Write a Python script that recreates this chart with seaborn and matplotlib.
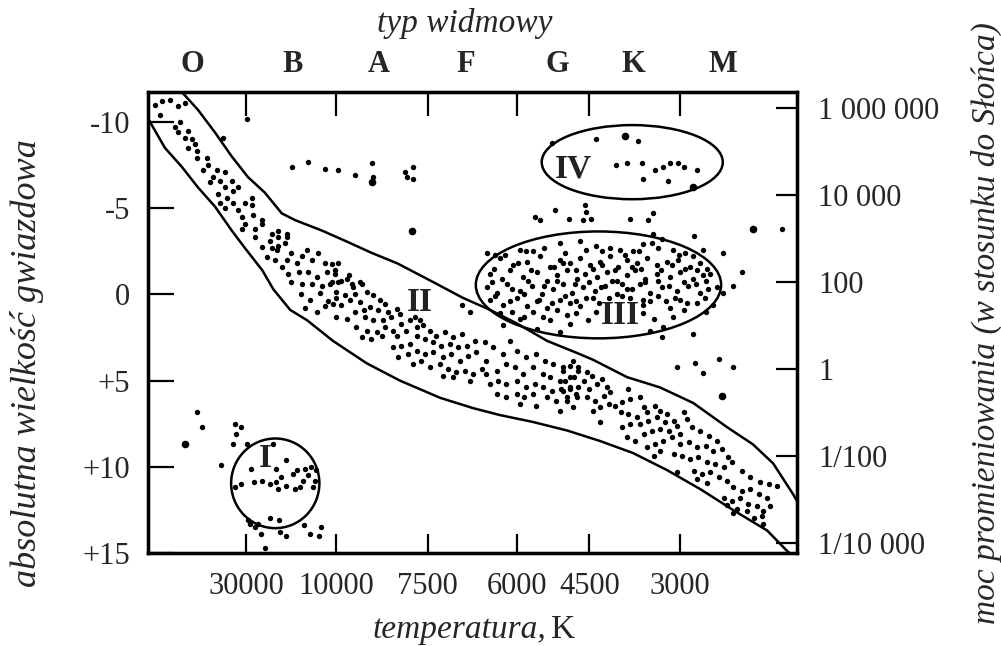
import pandas as pd
import matplotlib
matplotlib.use("Agg")
import matplotlib.pyplot as plt
from matplotlib.patches import Ellipse
import seaborn as sns

# x: position along spectral sequence (0-100), m: absolute magnitude
temp_ticks = [15.1, 29.0, 43.1, 56.9, 68.0, 82.0]
temp_labels = ["30000", "10000", "7500", "6000", "4500", "3000"]
spec_pos = [6.8, 22.2, 35.6, 48.9, 63.1, 74.7, 88.6]
spec_labels = ["O", "B", "A", "F", "G", "K", "M"]
mag_ticks = [-10, -5, 0, 5, 10, 15]
mag_labels = ["-10", "-5", "0", "+5", "+10", "+15"]
lum_ticks = [6, 4, 2, 0, -2, -4]
lum_labels = ["1 000 000", "10 000", "100", "1", "1/100", "1/10 000"]

# band of the main sequence
upper_edge = [(5.2, -11.74), (7.7, -10.7), (10.3, -9.4), (12.9, -8.0), (15.4, -6.8), (18.0, -5.9),
              (20.6, -4.7), (22.7, -4.3), (26.8, -3.7), (30.4, -3.1), (34.5, -2.4), (38.4, -1.8),
              (43.5, -0.8), (48.5, 0.2), (52.7, 0.9), (56.9, 1.7), (61.5, 2.7), (66.1, 3.4),
              (68.6, 3.8), (73.8, 4.8), (78.9, 5.4), (84.0, 6.3), (89.2, 7.7), (93.2, 8.7),
              (96.3, 9.8), (99.4, 11.6), (100.0, 12.0)]
lower_edge = [(0.0, -10.2), (2.6, -8.5), (5.2, -7.4), (7.7, -6.2), (10.3, -5.1), (12.9, -3.7),
              (14.9, -2.7), (17.6, -1.4), (19.3, -0.3), (21.9, 0.9), (24.5, 1.5), (28.5, 2.7),
              (33.7, 4.0), (38.8, 5.0), (45.0, 6.0), (50.1, 6.6), (54.2, 7.0), (59.3, 7.4),
              (64.6, 7.9), (69.6, 8.5), (74.7, 9.2), (80.0, 10.2), (85.1, 11.3), (90.1, 12.5),
              (95.4, 13.7), (98.5, 14.9), (99.2, 15.1)]

# ovals: centre x, centre m, width, height
dwarf_oval = (19.6, 10.96, 13.6, 5.2)
giant_oval = (69.4, -0.55, 37.8, 6.2)
super_oval = (74.6, -7.67, 27.9, 4.3)

ms_hot = [(1.1, -11.0), (2.2, -11.2), (3.4, -11.3), (4.6, -10.9), (5.7, -11.1), (1.8, -10.4),
          (4.9, -10.0), (4.2, -9.7), (4.6, -9.4), (6.2, -9.5), (5.7, -9.1), (6.8, -9.0), (7.2, -8.7),
          (6.2, -8.5), (7.6, -8.3), (7.6, -7.9), (9.1, -7.9), (9.2, -7.5), (8.5, -7.2), (10.6, -7.2),
          (11.9, -7.1), (10.0, -6.8), (11.1, -6.6), (12.9, -6.6), (9.6, -6.5), (11.9, -6.2),
          (13.1, -6.0), (10.8, -5.8), (12.2, -5.6), (13.9, -6.2), (11.1, -5.3), (13.1, -5.3),
          (11.9, -5.0), (16.0, -5.6), (14.9, -5.3), (13.9, -4.9), (16.0, -5.2), (14.5, -4.5),
          (16.2, -4.6), (17.6, -4.3), (14.9, -4.1), (14.5, -3.8), (16.5, -3.8), (17.6, -4.1),
          (19.1, -3.5), (20.0, -3.7), (21.4, -3.5), (16.5, -3.3), (18.8, -3.1), (20.0, -3.3),
          (21.4, -3.3), (19.1, -2.7), (20.0, -2.8), (21.1, -3.0), (17.5, -2.75), (19.8, -2.56),
          (18.3, -2.17), (19.6, -1.98)]
ms_b = [(20.6, -1.6), (21.4, -2.0), (22.1, -2.4), (22.9, -1.8), (23.7, -2.2), (24.5, -2.6),
        (25.2, -2.0), (26.2, -2.4), (27.3, -1.8), (21.6, -1.2), (23.2, -1.3), (24.7, -1.3),
        (26.0, -1.0), (27.5, -1.3), (28.8, -1.4), (22.1, -0.7), (23.7, -0.6), (25.2, -0.6),
        (26.8, -0.5), (28.3, -0.7), (29.8, -0.8), (31.4, -0.6), (32.7, -0.7), (30.9, -1.1),
        (29.3, -1.8), (23.5, 0.0), (25.0, 0.3), (26.5, -0.1), (27.8, 0.4), (24.2, 0.8),
        (26.0, 1.0), (27.2, 0.7), (29.0, 0.2)]
ms_mid = [(28.3, -1.78), (28.8, -1.20), (28.0, -0.62), (29.3, -0.71), (30.6, -0.91), (31.6, -0.42),
          (32.9, -0.62), (29.0, -0.13), (30.3, 0.06), (31.9, -0.04), (28.5, 0.55), (29.8, 0.64),
          (31.1, 0.35), (32.6, 0.45), (29.0, 1.32), (30.6, 1.42), (31.9, 1.03), (33.2, 0.93),
          (33.7, -0.13), (34.7, 0.06), (35.7, 0.35), (36.5, 0.55), (34.2, 0.74), (35.5, 0.93),
          (37.0, 1.03), (38.3, 0.84), (33.4, 1.32), (34.7, 1.51), (36.2, 1.51), (37.5, 1.32),
          (38.8, 1.13), (32.1, 1.90), (33.7, 2.10), (35.2, 2.19), (36.5, 1.90), (37.8, 2.10),
          (39.0, 1.71), (40.3, 1.51), (32.9, 2.48), (34.4, 2.58), (36.0, 2.39), (38.3, 2.39),
          (39.8, 2.10), (41.1, 1.32), (41.9, 1.51), (41.4, 1.90), (42.4, 1.80), (43.4, 2.10),
          (44.4, 2.39), (45.7, 2.19), (47.0, 2.48), (48.3, 2.29), (41.4, 2.39), (42.6, 2.58),
          (43.9, 2.77), (45.2, 2.97), (46.5, 2.87), (47.8, 3.06), (49.1, 2.97), (50.3, 2.68),
          (37.8, 3.06), (39.0, 2.97), (40.3, 2.87), (38.5, 3.65), (40.1, 3.45), (41.4, 3.26),
          (42.6, 3.45), (43.9, 3.36), (45.5, 3.65), (46.7, 3.45), (48.0, 3.84), (49.3, 3.55),
          (50.6, 3.36), (51.9, 2.77), (40.8, 4.03), (42.1, 3.84), (43.4, 4.23), (45.0, 4.03),
          (46.2, 4.32), (47.5, 4.52), (48.8, 4.42), (50.1, 4.61), (51.4, 4.32), (52.1, 3.84),
          (45.5, 4.71), (47.0, 4.81), (49.6, 5.00), (53.2, 3.06), (54.7, 3.45), (55.7, 2.68),
          (56.8, 3.26), (58.3, 3.65), (59.8, 3.45), (61.1, 3.84), (62.4, 4.03), (64.0, 4.23),
          (65.5, 3.84), (52.1, 4.61), (53.7, 4.42), (55.2, 4.03), (56.5, 4.23), (57.8, 4.61),
          (59.3, 4.23), (60.9, 4.61), (61.9, 4.81), (63.4, 5.00), (65.0, 4.81), (66.3, 4.42),
          (52.7, 5.20), (53.9, 5.00), (55.2, 5.20), (56.8, 5.00), (58.3, 5.39), (59.6, 5.20),
          (60.9, 5.39), (62.2, 5.58), (63.7, 5.49), (65.0, 5.39), (53.7, 5.78), (55.2, 5.97),
          (56.8, 5.78), (58.0, 5.97), (59.3, 5.78), (61.4, 5.97), (62.9, 6.17), (64.5, 5.97),
          (66.0, 5.78), (57.3, 6.36), (59.8, 6.46), (63.4, 6.75), (65.5, 6.55)]
ms_cool = [(64.0, 4.42), (65.0, 4.13), (66.3, 4.22), (67.6, 4.52), (64.3, 5.00), (65.6, 4.81),
           (67.1, 5.00), (68.4, 4.71), (69.9, 4.90), (64.0, 5.58), (65.0, 5.49), (66.3, 5.39),
           (67.9, 5.49), (69.2, 5.19), (70.7, 5.39), (64.5, 6.16), (66.1, 5.97), (67.6, 5.97),
           (68.9, 6.16), (70.2, 5.87), (71.2, 5.68), (69.7, 6.55), (71.0, 6.36), (68.6, 6.75),
           (69.7, 7.43), (72.0, 6.45), (73.0, 6.26), (74.0, 5.49), (74.3, 6.07), (75.8, 5.97),
           (76.4, 6.55), (72.8, 6.84), (74.0, 6.94), (75.3, 7.13), (76.9, 6.84), (78.1, 6.45),
           (78.9, 6.75), (79.9, 6.94), (73.0, 7.72), (74.3, 7.52), (75.8, 7.52), (77.1, 7.33),
           (78.4, 7.13), (79.7, 7.43), (81.0, 7.33), (73.8, 8.30), (75.1, 8.49), (76.4, 8.10),
           (77.6, 7.91), (78.9, 7.81), (80.2, 7.91), (81.5, 7.62), (76.9, 8.88), (78.1, 8.69),
           (79.4, 8.49), (80.7, 8.30), (82.0, 8.10), (77.9, 9.37), (78.9, 9.07), (82.5, 6.84),
           (83.0, 7.23), (83.8, 7.72), (85.1, 7.91), (86.4, 8.20), (87.6, 8.49), (82.0, 8.69),
           (83.3, 8.59), (84.6, 8.88), (85.9, 8.78), (87.1, 9.07), (88.4, 8.98), (89.4, 9.46),
           (81.0, 9.27), (82.3, 9.37), (83.5, 9.56), (84.8, 9.46), (86.1, 9.75), (87.4, 9.85),
           (88.7, 10.04), (90.0, 9.75), (84.1, 10.23), (85.3, 10.43), (86.6, 10.33), (87.9, 10.62),
           (89.2, 10.82), (81.5, 10.33), (84.6, 10.72), (86.1, 10.95), (91.5, 10.23), (92.8, 10.62),
           (94.3, 10.91), (95.6, 11.01), (96.9, 11.10), (90.2, 11.20), (91.5, 11.40), (92.8, 11.30),
           (94.1, 11.59), (95.4, 11.79), (88.7, 11.79), (90.0, 11.98), (91.2, 11.79), (92.5, 12.17),
           (93.8, 12.27), (94.8, 12.56), (95.9, 12.27), (89.2, 12.20), (90.7, 12.45), (92.3, 12.56),
           (93.3, 12.95), (94.6, 12.85), (94.8, 13.34), (90.2, 12.70)]
giants = [(52.2, -2.4), (53.5, -2.3), (57.3, -2.6), (59.3, -2.5), (63.5, -3.0), (66.6, -3.1),
          (70.0, -2.5), (71.2, -2.7), (72.7, -2.6), (74.7, -2.5), (76.3, -2.9), (77.7, -3.0),
          (79.2, -3.2), (80.9, -2.6), (82.7, -2.4), (85.5, -2.6),
          (54.2, -2.1), (56.2, -1.7), (58.4, -1.9), (60.4, -2.2), (61.9, -1.6), (63.5, -2.0),
          (65.0, -1.8), (66.6, -2.1), (68.1, -1.7), (69.6, -1.9), (71.2, -2.2), (72.4, -1.6),
          (73.8, -2.0), (75.3, -1.8), (76.9, -2.1), (78.4, -1.7), (80.0, -1.9), (81.7, -2.0),
          (83.5, -1.6), (85.1, -1.8), (86.1, -1.5),
          (52.7, -1.2), (54.5, -0.9), (55.8, -1.4), (57.8, -1.0), (59.9, -1.3), (61.5, -0.8),
          (63.0, -1.1), (64.6, -1.4), (66.1, -0.9), (67.3, -1.2), (69.2, -1.0), (70.7, -1.3),
          (72.3, -0.8), (73.8, -1.1), (75.0, -1.4), (76.6, -0.9), (78.4, -1.2), (80.4, -1.0),
          (82.0, -1.3), (84.0, -0.9), (85.5, -1.1), (86.6, -1.2),
          (52.2, -0.4), (53.8, -0.1), (55.3, -0.6), (57.3, -0.2), (59.2, -0.5), (60.7, 0.0),
          (62.4, -0.3), (63.9, -0.6), (65.3, -0.1), (67.0, -0.4), (68.9, -0.2), (70.4, -0.5),
          (72.3, 0.0), (73.8, -0.3), (75.8, -0.6), (77.3, -0.1), (79.2, -0.4), (81.5, -0.2),
          (83.2, -0.5), (85.1, -0.1), (86.3, -0.3), (87.7, -0.4),
          (52.7, 0.3), (54.7, 0.6), (56.9, 0.2), (58.4, 0.7), (59.9, 0.4), (61.5, 0.8),
          (63.5, 0.3), (65.0, 0.5), (66.6, 0.7), (68.6, 0.2), (76.2, 0.6), (77.3, 0.4),
          (80.4, 0.8), (82.0, 0.3), (84.6, 0.5), (87.1, 0.6),
          (54.2, 1.1), (57.3, 1.4), (59.3, 1.0), (60.9, 1.3), (63.0, 0.9), (64.6, 1.2),
          (67.8, 1.5), (76.3, 1.1), (80.9, 1.3),
          (54.7, 1.8), (59.9, 2.0), (63.5, 2.2), (65.0, 1.7), (77.3, 2.1), (79.4, 1.9), (84.0, 2.3),
          (55.0, -2.3), (58.3, -2.5), (61.0, -2.7), (64.3, -2.4), (67.5, -2.6), (69.0, -2.8),
          (73.5, -2.3), (75.6, -2.5), (78.5, -2.7), (81.8, -2.3), (84.0, -2.2),
          (53.3, -1.5), (57.0, -1.8), (59.0, -1.4), (62.6, -1.6), (64.0, -1.8), (66.0, -1.4),
          (68.5, -1.5), (70.0, -1.7), (72.0, -1.4), (74.5, -1.6), (76.0, -1.5), (79.0, -1.4),
          (80.8, -1.7), (82.8, -1.5), (84.6, -1.4),
          (53.0, -0.7), (56.0, -0.3), (58.5, -0.8), (61.0, -0.5), (63.0, -0.8), (65.8, -0.6),
          (68.0, -0.7), (69.8, -0.4), (71.5, -0.8), (73.0, -0.6), (74.5, -0.3), (76.5, -0.7),
          (78.6, -0.8), (80.2, -0.5), (82.5, -0.7), (84.4, -0.6), (86.0, -0.8),
          (53.5, 0.1), (55.8, 0.4), (57.9, 0.0), (60.3, 0.3), (62.3, 0.5), (64.2, 0.1),
          (66.0, 0.4), (67.5, 0.2), (69.5, 0.5), (71.0, 0.2), (73.0, 0.1), (74.2, 0.2),
          (76.2, 0.3), (78.5, 0.1), (79.8, 0.4), (81.2, 0.2), (83.0, 0.5), (85.8, 0.2),
          (56.0, 1.0), (58.0, 1.3), (62.0, 1.5), (66.0, 1.1), (69.0, 1.0), (78.0, 1.4),
          (82.5, 0.9), (86.0, 1.0),
          (93.2, -3.8), (91.5, -1.3), (90.1, -0.5), (88.6, -0.1), (88.6, -2.4), (79.2, 2.5)]
supergiants = [(22.2, -7.4), (24.7, -7.7), (27.3, -7.3), (29.3, -7.2), (31.9, -6.9), (34.7, -6.8),
               (34.5, -7.6), (39.9, -6.8), (40.8, -7.4), (40.8, -6.7), (39.6, -7.1),
               (62.2, -8.8), (69.0, -9.0), (75.5, -8.9), (72.1, -7.5), (73.8, -7.6), (76.1, -7.6),
               (78.1, -7.2), (79.4, -7.4), (80.4, -7.6), (81.7, -7.6), (82.6, -7.4), (84.6, -7.2),
               (76.3, -6.7), (80.1, -6.6),
               (59.6, -4.5), (60.4, -4.3), (62.7, -4.9), (64.9, -4.4), (67.3, -5.2), (67.5, -4.8),
               (67.0, -4.3), (68.3, -4.4), (74.3, -4.4), (77.0, -4.3), (77.8, -4.7), (77.8, -3.5),
               (84.1, -3.4), (97.7, -3.8)]
dwarfs = [(7.6, 6.8), (8.3, 7.7), (13.4, 7.5), (14.3, 7.7), (13.6, 8.1), (13.1, 8.7), (15.3, 8.7),
          (11.2, 9.9), (19.3, 8.7), (15.9, 10.1), (19.7, 10.1), (21.3, 9.6), (22.3, 10.4),
          (23.0, 10.2), (24.2, 10.1), (25.1, 10.0), (25.9, 10.2), (24.7, 10.5), (23.9, 10.8),
          (23.4, 11.2), (22.7, 11.3), (21.3, 11.1), (20.5, 10.6), (19.7, 10.9), (18.8, 11.0),
          (17.6, 10.8), (16.3, 10.9), (14.3, 11.0), (13.4, 11.2), (20.0, 11.3), (25.4, 11.2),
          (25.7, 10.8), (18.8, 13.0), (20.2, 13.1), (15.4, 13.1), (15.7, 13.3), (16.5, 13.5),
          (16.9, 13.3), (17.4, 13.9), (20.3, 13.8), (21.3, 14.0), (24.0, 13.4), (25.0, 13.9),
          (26.3, 14.0), (26.7, 13.5), (18.0, 14.7)]
others = [(15.3, -10.2), (11.6, -9.1), (48.4, 0.64), (49.6, 1.05), (81.5, 4.22), (84.3, 3.99),
          (85.5, 4.57), (87.9, 3.74), (90.1, 4.22)]
big_stars = [(5.7, 8.7), (73.5, -9.2), (40.7, -3.7), (34.5, -6.5), (84.0, -6.2), (88.4, 5.87),
             (93.2, -3.8)]

region_labels = [("I", 18.0, 9.5), ("II", 41.9, 0.45), ("III", 72.7, 1.2), ("IV", 65.5, -7.3)]

# ---- plot
sns.set_theme(style="ticks")
plt.rcParams["font.family"] = ["Liberation Serif", "DejaVu Serif"]

fig = plt.figure(figsize=(10.01, 6.46), dpi=100)
ax = fig.add_axes([0.1479, 0.1440, 0.6484, 0.7136])

stars = pd.DataFrame(ms_hot + ms_b + ms_mid + ms_cool + giants + supergiants + dwarfs + others,
                     columns=["x", "m"])
big = pd.DataFrame(big_stars, columns=["x", "m"])
sns.scatterplot(data=stars, x="x", y="m", s=15, color="black", linewidth=0, ax=ax)
sns.scatterplot(data=big, x="x", y="m", s=30, color="black", linewidth=0, ax=ax)

for edge in (upper_edge, lower_edge):
    e = pd.DataFrame(edge, columns=["x", "m"])
    sns.lineplot(data=e, x="x", y="m", sort=False, estimator=None, color="black", lw=1.8, ax=ax)

for cx, cy, w, h in (dwarf_oval, giant_oval, super_oval):
    ax.add_patch(Ellipse((cx, cy), w, h, fill=False, edgecolor="black", lw=1.8))

for txt, x, y in region_labels:
    ax.text(x, y, txt, ha="center", va="center", fontsize=24, fontweight="bold", color="#222222")

ax.set_xlim(0, 100)
ax.set_ylim(15, -11.74)
ax.set_xlabel("")
ax.set_ylabel("")
ax.set_xticks(temp_ticks, labels=temp_labels)
ax.set_yticks(mag_ticks, labels=mag_labels)
ax.tick_params(axis="x", direction="in", length=14, width=1.6, pad=14, labelsize=22, color="black")
ax.tick_params(axis="y", direction="in", length=19, width=1.6, pad=13, labelsize=22, color="black")

ax_r = ax.twinx()
ax_r.set_ylim(-4.23, 6.37)
ax_r.set_yticks(lum_ticks, labels=lum_labels)
ax_r.tick_params(axis="y", direction="in", length=15, width=1.6, pad=15, labelsize=22, color="black")

ax_t = ax.twiny()
ax_t.set_xlim(0, 100)
ax_t.set_xticks(temp_ticks, labels=[""] * len(temp_ticks))
ax_t.set_xticks(spec_pos, labels=spec_labels, minor=True)
ax_t.tick_params(axis="x", which="major", direction="in", length=17, width=1.6, color="black")
ax_t.tick_params(axis="x", which="minor", length=0, pad=9, labelsize=22)
for lab in ax_t.get_xticklabels(minor=True):
    lab.set_fontweight("bold")

for a in (ax, ax_r, ax_t):
    for sp in a.spines.values():
        sp.set_linewidth(2.3)
        sp.set_color("black")

fig.text(465 / 1001, 1 - 32 / 646, "typ widmowy", ha="center", va="baseline",
         fontsize=24, style="italic")
fig.text(546 / 1001, 1 - 638 / 646, "temperatura,", ha="right", va="baseline",
         fontsize=24, style="italic")
fig.text(551 / 1001, 1 - 638 / 646, "K", ha="left", va="baseline", fontsize=24)
fig.text(27 / 1001, 1 - 363 / 646, "absolutna wielkość gwiazdowa", ha="center", va="center",
         rotation=90, fontsize=26, style="italic")
fig.text(986 / 1001, 1 - 323 / 646, "moc promieniowania (w stosunku do Słońca)", ha="center",
         va="center", rotation=90, fontsize=24, style="italic")

fig.savefig("out.png", dpi=100, facecolor="white")
